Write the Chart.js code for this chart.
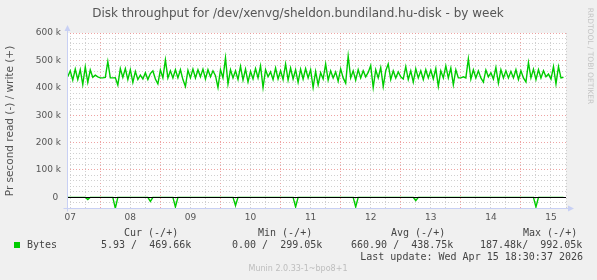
<!DOCTYPE html>
<html>
<head>
<meta charset="utf-8">
<script src="https://cdn.jsdelivr.net/npm/chart.js@4.4.1/dist/chart.umd.min.js"></script>
<style>
  html, body { margin: 0; padding: 0; background: #f0f0f0; }
  canvas { display: block; }
</style>
</head>
<body>
<canvas id="chart" width="597" height="280"></canvas>
<script>
// hours counted from midnight of day 07, one sample per hour
const firstHour = 11;
const writeK = [
  440, 462, 428, 468, 430, 466, 412, 476, 420, 465, 438, 446, 440, 436, 436, 438, 496, 436, 436, 437,
  410, 470, 438, 470, 430, 466, 420, 460, 430, 446, 432, 455, 430, 452,
  462, 432, 414, 465, 436, 502, 436, 462, 436, 466, 436, 466, 430, 405, 464, 436, 468, 436, 466, 440,
  468, 432, 466, 440, 462, 444, 401, 466, 436, 509, 414, 466, 436,
  462, 430, 478, 428, 468, 421, 460, 432, 470, 436, 480, 401, 466, 440, 458, 430, 472, 432, 462, 430,
  487, 428, 472, 432, 466, 420, 468, 432, 470, 436, 466, 401, 460,
  411, 455, 432, 487, 428, 462, 436, 458, 424, 469, 436, 417, 516, 436, 462, 428, 466, 436, 462, 440,
  456, 481, 401, 466, 436, 474, 405, 462, 487, 430, 462, 436, 458, 440,
  432, 477, 430, 462, 421, 469, 436, 462, 430, 466, 436, 464, 432, 470, 405, 462, 436, 480, 436, 472,
  411, 466, 436, 436, 440, 436, 506, 432, 466, 436, 462, 436, 421, 465,
  440, 455, 432, 474, 417, 466, 436, 462, 436, 460, 436, 466, 430, 462, 436, 421, 492, 436, 468, 430,
  466, 436, 462, 440, 450, 432, 477, 414, 477, 436, 438
];
// read (negative) dips, everything else is 0
const readHours = [19, 30, 44, 54, 78, 102, 126, 150, 198];
const readK = [-8, -40, -15, -35, -30, -35, -35, -12, -35];

const yTicks = [0, 100000, 200000, 300000, 400000, 500000, 600000];
const dayLabels = ["07", "08", "09", "10", "11", "12", "13", "14", "15"];

const hours = writeK.map((_, i) => firstHour + i);
const writeData = hours.map((h, i) => ({ x: h, y: writeK[i] * 1000 }));
const readData = hours.map(h => {
  const j = readHours.indexOf(h);
  return { x: h, y: j >= 0 ? readK[j] * 1000 : 0 };
});

const green = "#00cc00";
const minorGrid = "rgba(200,200,200,0.85)";
const majorGrid = "rgba(235,140,140,0.8)";
const axisColor = "#c8d0f4";

const decor = {
  id: "decor",
  beforeDraw(chart) {
    const c = chart.ctx, a = chart.chartArea;
    c.save();
    c.fillStyle = "#f0f0f0";
    c.fillRect(0, 0, chart.width, chart.height);
    c.fillStyle = "#ffffff";
    c.fillRect(a.left, a.top, a.right - a.left, a.bottom - a.top);
    c.restore();
  },
  afterDatasetsDraw(chart) {
    const c = chart.ctx, a = chart.chartArea;
    const y0 = Math.round(chart.scales.y.getPixelForValue(0)) + 0.5;
    c.save();
    c.strokeStyle = "#000";
    c.lineWidth = 1;
    c.beginPath();
    c.moveTo(a.left, y0);
    c.lineTo(a.right, y0);
    c.stroke();

    // axes with arrows
    const ax = Math.round(a.left) + 0.5, ay = Math.round(a.bottom) + 0.5;
    c.strokeStyle = axisColor;
    c.fillStyle = axisColor;
    c.beginPath();
    c.moveTo(ax, ay + 3);
    c.lineTo(ax, a.top - 3);
    c.moveTo(ax - 4, ay);
    c.lineTo(a.right + 3, ay);
    c.stroke();
    c.beginPath();
    c.moveTo(ax - 3, a.top - 2);
    c.lineTo(ax + 3, a.top - 2);
    c.lineTo(ax, a.top - 8);
    c.closePath();
    c.fill();
    c.beginPath();
    c.moveTo(a.right + 2, ay - 3);
    c.lineTo(a.right + 2, ay + 3);
    c.lineTo(a.right + 8, ay);
    c.closePath();
    c.fill();
    c.restore();
  },
  afterDraw(chart) {
    const c = chart.ctx;
    c.save();
    c.textBaseline = "middle";

    c.fillStyle = "#555";
    c.font = "12px 'DejaVu Sans'";
    c.textAlign = "center";
    c.fillText("Disk throughput for /dev/xenvg/sheldon.bundiland.hu-disk - by week", 298, 14);

    c.save();
    c.translate(10, 121);
    c.rotate(-Math.PI / 2);
    c.font = "10.5px 'DejaVu Sans'";
    c.fillText("Pr second read (-) / write (+)", 0, 0);
    c.restore();

    c.save();
    c.translate(590, 56);
    c.rotate(Math.PI / 2);
    c.fillStyle = "#c4c4c4";
    c.font = "7.5px 'DejaVu Sans'";
    c.fillText("RRDTOOL / TOBI OETIKER", 0, 0);
    c.restore();

    c.fillStyle = "#444";
    c.font = "10px 'DejaVu Sans Mono'";
    c.textAlign = "left";
    c.fillText("Cur (-/+)", 124, 233);
    c.fillText("Min (-/+)", 258, 233);
    c.fillText("Avg (-/+)", 391, 233);
    c.fillText("Max (-/+)", 523, 233);
    c.fillText("Bytes", 27, 245);
    c.fillText("5.93 /  469.66k", 101, 245);
    c.fillText("0.00 /  299.05k", 232, 245);
    c.fillText("660.90 /  438.75k", 351, 245);
    c.fillText("187.48k/  992.05k", 480, 245);
    c.textAlign = "right";
    c.fillText("Last update: Wed Apr 15 18:30:37 2026", 583, 257);

    c.fillStyle = green;
    c.fillRect(14, 242, 6, 6);

    c.fillStyle = "#bdbdbd";
    c.font = "8px 'DejaVu Sans'";
    c.textAlign = "center";
    c.fillText("Munin 2.0.33-1~bpo8+1", 298, 269);
    c.restore();
  }
};

const ctx = document.getElementById("chart").getContext("2d");
new Chart(ctx, {
  type: "line",
  data: {
    datasets: [
      { label: "write", data: writeData, borderColor: green, borderWidth: 1.4, pointRadius: 0, tension: 0, fill: false },
      { label: "read", data: readData, borderColor: green, borderWidth: 1.4, pointRadius: 0, tension: 0, fill: false }
    ]
  },
  options: {
    responsive: false,
    animation: false,
    devicePixelRatio: 1,
    layout: { padding: { top: 33, right: 31, left: 0, bottom: 0 } },
    plugins: { legend: { display: false }, tooltip: { enabled: false } },
    scales: {
      x: {
        type: "linear",
        min: 10.7,
        max: 210,
        afterFit: s => { s.height = 71.7; },
        ticks: {
          stepSize: 6,
          includeBounds: false,
          autoSkip: false,
          maxRotation: 0,
          padding: 4,
          color: "#555",
          font: { family: "DejaVu Sans", size: 9 },
          callback: v => (v % 24 === 12 ? dayLabels[Math.floor(v / 24)] : "")
        },
        grid: {
          drawTicks: false,
          color: c => (c.tick && c.tick.value % 24 === 0 ? majorGrid : minorGrid)
        },
        border: { display: false, dash: [1, 2] }
      },
      y: {
        min: -40000,
        max: 600000,
        afterFit: s => { s.width = 67; },
        ticks: {
          stepSize: 20000,
          autoSkip: false,
          padding: 6,
          color: "#555",
          font: { family: "DejaVu Sans", size: 9 },
          callback: v => (yTicks.includes(v) ? (v === 0 ? "0 " : v / 1000 + " k") : "")
        },
        grid: {
          drawTicks: false,
          color: c => (c.tick && c.tick.value % 100000 === 0 && c.tick.value > 0 ? majorGrid : minorGrid)
        },
        border: { display: false, dash: [1, 2] }
      }
    }
  },
  plugins: [decor]
});
</script>
</body>
</html>
